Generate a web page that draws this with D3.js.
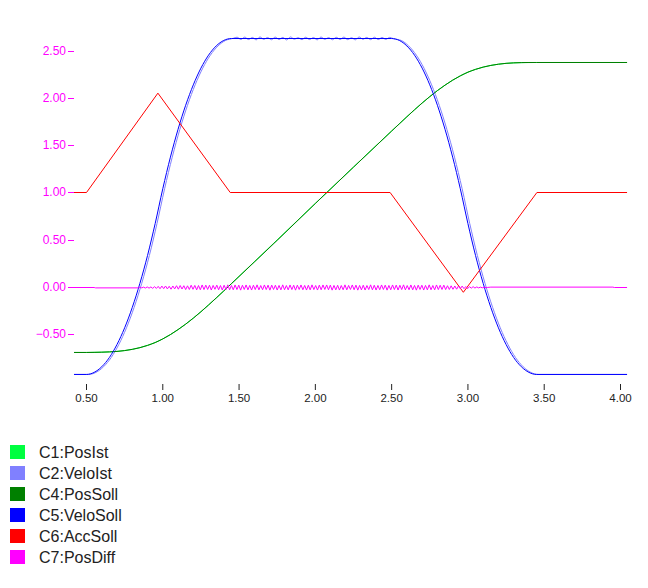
<!DOCTYPE html>
<html>
<head>
<meta charset="utf-8">
<script src="https://cdn.jsdelivr.net/npm/d3@7"></script>
<style>
  html, body { margin: 0; padding: 0; background: #fff; }
  svg { display: block; }
  text { font-family: "Liberation Sans", Arial, sans-serif; }
</style>
</head>
<body>
<svg id="chart" width="648" height="588"></svg>
<script>
// ---------- data (time, value) ----------
const xTicks = [0.5, 1.0, 1.5, 2.0, 2.5, 3.0, 3.5, 4.0];
const yTicks = [-0.5, 0.0, 0.5, 1.0, 1.5, 2.0, 2.5];

const seriesNames = ["C1:PosIst", "C2:VeloIst", "C4:PosSoll", "C5:VeloSoll", "C6:AccSoll", "C7:PosDiff"];
const seriesColors = ["#00ff40", "#8080ff", "#008000", "#0000ff", "#ff0000", "#ff00ff"];

const posSoll = [
  [0.418, -0.691], [0.50, -0.691], [0.55, -0.690], [0.60, -0.688], [0.65, -0.685], [0.70, -0.680],
  [0.75, -0.671], [0.80, -0.658], [0.85, -0.640], [0.90, -0.616], [0.95, -0.586], [1.00, -0.547],
  [1.05, -0.501], [1.10, -0.448], [1.15, -0.390], [1.20, -0.326], [1.25, -0.258], [1.30, -0.186],
  [1.35, -0.112], [1.40, -0.036], [1.45, 0.041], [1.75, 0.502], [2.00, 0.886], [2.25, 1.270],
  [2.50, 1.654], [2.55, 1.730], [2.60, 1.806], [2.65, 1.880], [2.70, 1.952], [2.75, 2.020],
  [2.80, 2.084], [2.85, 2.142], [2.90, 2.195], [2.95, 2.241], [3.00, 2.280], [3.05, 2.310],
  [3.10, 2.334], [3.15, 2.352], [3.20, 2.365], [3.25, 2.374], [3.30, 2.379], [3.35, 2.382],
  [3.40, 2.383], [3.45, 2.383], [4.043, 2.383]
];
const posIst = [
  [0.418, -0.691], [0.50, -0.691], [0.60, -0.688], [0.70, -0.680], [0.80, -0.658], [0.90, -0.616],
  [1.00, -0.547], [1.10, -0.448], [1.20, -0.326], [1.30, -0.186], [1.40, -0.036], [1.45, 0.041],
  [2.00, 0.886], [2.50, 1.654], [2.60, 1.806], [2.70, 1.952], [2.80, 2.084], [2.90, 2.195],
  [3.00, 2.280], [3.10, 2.334], [3.20, 2.365], [3.30, 2.379], [3.45, 2.383], [4.043, 2.383]
];

const veloSoll = [
  [0.418, -0.925], [0.50, -0.925], [0.55, -0.903], [0.60, -0.843], [0.65, -0.745], [0.70, -0.606],
  [0.75, -0.429], [0.80, -0.212], [0.85, 0.044], [0.90, 0.340], [0.95, 0.676], [1.00, 1.040],
  [1.05, 1.376], [1.10, 1.672], [1.15, 1.928], [1.20, 2.145], [1.25, 2.323], [1.30, 2.461],
  [1.35, 2.559], [1.40, 2.618], [1.45, 2.638], [2.50, 2.638], [2.55, 2.618], [2.60, 2.559],
  [2.65, 2.461], [2.70, 2.323], [2.75, 2.145], [2.80, 1.928], [2.85, 1.672], [2.90, 1.376],
  [2.95, 1.040], [3.00, 0.676], [3.05, 0.340], [3.10, 0.044], [3.15, -0.212], [3.20, -0.429],
  [3.25, -0.606], [3.30, -0.745], [3.35, -0.843], [3.40, -0.903], [3.45, -0.925], [4.043, -0.925]
];

const veloIst = [
  [0.418, -0.925], [0.512, -0.925], [0.562, -0.903], [0.612, -0.843], [0.662, -0.745], [0.712, -0.606],
  [0.762, -0.429], [0.812, -0.212], [0.862, 0.044], [0.912, 0.340], [0.962, 0.676], [1.012, 1.040],
  [1.062, 1.376], [1.112, 1.672], [1.162, 1.928], [1.212, 2.145], [1.262, 2.323], [1.312, 2.461],
  [1.362, 2.559], [1.412, 2.618], [1.462, 2.640],
  [1.487, 2.652], [1.512, 2.628], [1.537, 2.653], [1.562, 2.627], [1.587, 2.650], [1.612, 2.624],
  [1.637, 2.655], [1.662, 2.629], [1.687, 2.649], [1.712, 2.625], [1.737, 2.653], [1.762, 2.628],
  [1.787, 2.650], [1.812, 2.623], [1.837, 2.655], [1.862, 2.631], [1.887, 2.647], [1.912, 2.626],
  [1.937, 2.652], [1.962, 2.627], [1.987, 2.649], [2.012, 2.624], [2.037, 2.654], [2.062, 2.629],
  [2.087, 2.648], [2.112, 2.625], [2.137, 2.651], [2.162, 2.628], [2.187, 2.653], [2.212, 2.626],
  [2.237, 2.647], [2.262, 2.624], [2.287, 2.655], [2.312, 2.630], [2.337, 2.650], [2.362, 2.626],
  [2.387, 2.652], [2.412, 2.627], [2.437, 2.649], [2.462, 2.629], [2.487, 2.650], [2.512, 2.636],
  [2.562, 2.618], [2.612, 2.559], [2.662, 2.461], [2.712, 2.323], [2.762, 2.145], [2.812, 1.928],
  [2.862, 1.672], [2.912, 1.376], [2.962, 1.040], [3.012, 0.676], [3.062, 0.340], [3.112, 0.044],
  [3.162, -0.212], [3.212, -0.429], [3.262, -0.606], [3.312, -0.745], [3.362, -0.843], [3.412, -0.903],
  [3.462, -0.925], [4.043, -0.925]
];

const accSoll = [
  [0.418, 1.0], [0.500, 1.0], [0.968, 2.057], [1.442, 1.0], [2.490, 1.0],
  [2.970, -0.051], [3.452, 1.0], [4.043, 1.0]
];

// PosDiff: quiet parts as (time, value) pairs, oscillating part sampled every 0.012 s from 0.85 s (values in 1e-3)
const diffQuietBefore = [[0.418, 0.0], [0.55, 0.0], [0.56, -0.004], [0.84, -0.004]];
const diffWaveStart = 0.85;
const diffWaveStep = 0.012;
const diffWaveMilli = [
  3,-4,4,-6,6,-7,6,-9,9,-10,12,
  -13,15,-12,16,-15,13,-18,16,-15,19,
  -18,21,-16,19,-22,18,-21,24,-19,22,
  -25,21,-24,27,-22,25,-21,24,-27,22,
  -19,25,-24,21,-27,24,-22,28,-25,21,
  -24,27,-22,25,-28,24,-21,27,-25,22,
  -27,24,-22,28,-25,21,-24,27,-22,25,
  -28,25,-21,24,-27,22,-25,28,-24,21,
  -25,27,-22,24,-28,25,-21,27,-24,22,
  -27,24,-25,28,-22,21,-27,25,-24,27,
  -21,27,-24,25,-28,22,-25,24,-27,21,
  -24,28,-25,22,-21,27,-24,25,-28,22,
  -25,24,-27,21,-22,28,-25,24,-27,22,
  -24,27,-21,25,-28,22,-24,27,-22,25,
  -27,24,-22,28,-25,21,-24,27,-25,22,
  -28,25,-21,24,-27,22,-25,28,-24,21,
  -25,27,-22,24,-21,25,-22,19,-21,18,
  -19,16,-18,15,-13,15,-12,10,-12,9,
  -7,9,-6,6,-4,4,-3,3,-1,1
];
const diffQuietAfter = [[3.15, 0.004], [3.95, 0.004], [3.96, 0.0], [4.043, 0.0]];

// ---------- drawing ----------
const svg = d3.select("#chart");
svg.append("rect").attr("width", 648).attr("height", 588).attr("fill", "#fff");

const x = d3.scaleLinear().domain([0.5, 4.0]).range([86.5, 620.5]);
// piecewise-linear so each tick lands on a pixel centre, like the original
const y = d3.scaleLinear().domain(yTicks).range([334.5, 287.5, 240.5, 192.5, 145.5, 98.5, 51.5]);
const fmt = d3.format(".2f");

// Y axis (magenta labels, no domain line)
const yAxis = d3.axisLeft(y).tickValues(yTicks).tickSize(6).tickPadding(2).tickFormat(fmt).offset(0);
const gy = svg.append("g").attr("transform", "translate(74,0)").call(yAxis);
gy.select(".domain").remove();
gy.selectAll("line").attr("stroke", "#ff00ff");
gy.selectAll("text").attr("fill", "#ff00ff").style("font-size", "12px")
  .style("font-family", "'Liberation Sans', Arial, sans-serif");

// X axis (ticks only)
const xAxis = d3.axisBottom(x).tickValues(xTicks).tickSize(6).tickPadding(4).tickFormat(fmt).offset(0);
const gx = svg.append("g").attr("transform", "translate(0,384)").call(xAxis);
gx.select(".domain").remove();
gx.selectAll("line").attr("stroke", "#222");
gx.selectAll("text").attr("fill", "#222").style("font-size", "11.5px")
  .style("font-family", "'Liberation Sans', Arial, sans-serif");

const smooth = d3.line().x(d => x(d[0])).y(d => y(d[1])).curve(d3.curveMonotoneX);
const straight = d3.line().x(d => x(d[0])).y(d => y(d[1]));

const diffSeries = diffQuietBefore
  .concat(diffWaveMilli.map((m, i) => [diffWaveStart + i * diffWaveStep, m / 1000]))
  .concat(diffQuietAfter);

const plots = [
  { data: posIst, color: seriesColors[0], gen: smooth },
  { data: veloIst, color: seriesColors[1], gen: smooth },
  { data: posSoll, color: seriesColors[2], gen: smooth },
  { data: veloSoll, color: seriesColors[3], gen: smooth },
  { data: accSoll, color: seriesColors[4], gen: straight },
  { data: diffSeries, color: seriesColors[5], gen: straight }
];

svg.append("g").selectAll("path").data(plots).join("path")
  .attr("d", p => p.gen(p.data))
  .attr("fill", "none")
  .attr("stroke", p => p.color)
  .attr("stroke-width", 1);

// Legend
const legend = svg.append("g").attr("transform", "translate(10,445)");
const rows = legend.selectAll("g").data(seriesNames).join("g")
  .attr("transform", (d, i) => `translate(0,${i * 21})`);
rows.append("rect").attr("width", 15).attr("height", 14).attr("fill", (d, i) => seriesColors[i]);
rows.append("text").attr("x", 29).attr("y", 13).attr("fill", "#222")
  .style("font-size", "16px").text(d => d);
</script>
</body>
</html>
